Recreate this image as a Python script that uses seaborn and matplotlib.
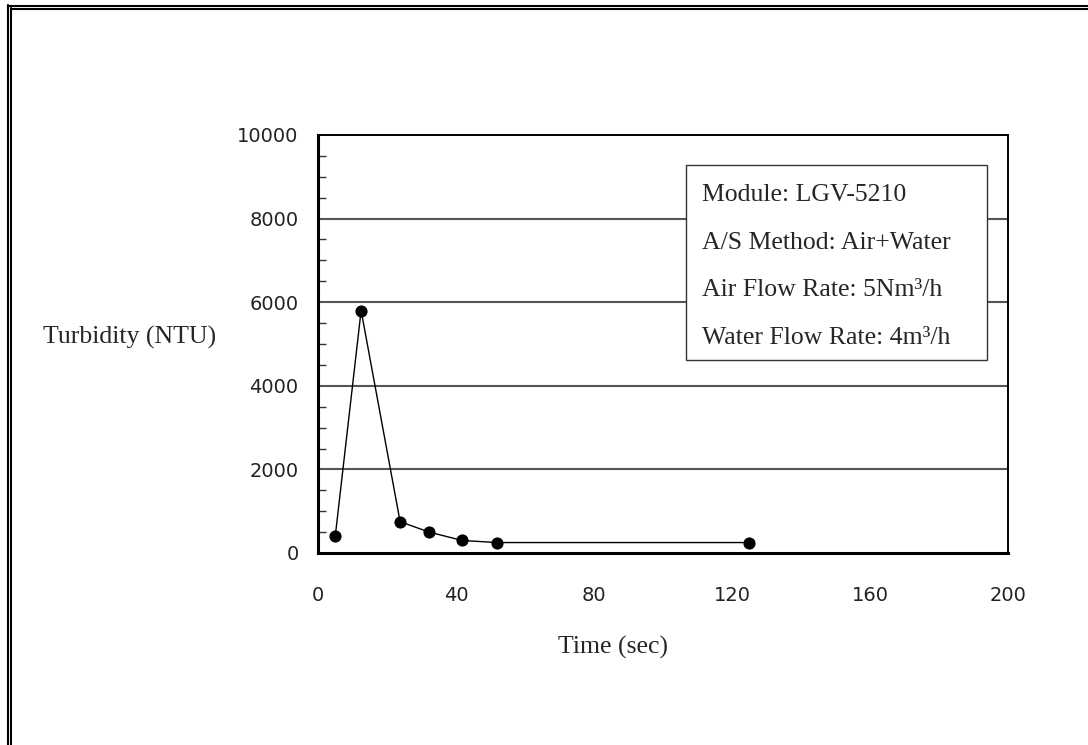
import matplotlib
matplotlib.use("Agg")
import matplotlib.pyplot as plt
import seaborn as sns
import pandas as pd
from matplotlib.patches import Rectangle
from matplotlib.lines import Line2D
from matplotlib.ticker import MultipleLocator

# Turbidity vs time
time_sec = [5, 12.5, 23.8, 32.2, 41.8, 51.8, 125]
turbidity = [400, 5800, 750, 500, 300, 250, 250]

info_lines = [
    "Module: LGV-5210",
    "A/S Method: Air+Water",
    "Air Flow Rate: 5Nm³/h",
    "Water Flow Rate: 4m³/h",
]

sns.set_style("white")
plt.rcParams["font.family"] = ["DejaVu Sans"]
serif = ["Liberation Serif", "DejaVu Serif"]

df = pd.DataFrame({"time": time_sec, "turbidity": turbidity})

fig = plt.figure(figsize=(10.88, 7.45), dpi=100)
ax = fig.add_axes([318 / 1088, 1 - 553 / 745, 690 / 1088, 418 / 745])

sns.lineplot(data=df, x="time", y="turbidity", ax=ax, color="black", linewidth=1,
             marker="o", markersize=8, markeredgecolor="black", markerfacecolor="black",
             zorder=4)

ax.set_xlim(0, 200)
ax.set_ylim(0, 10000)
ax.xaxis.set_major_locator(MultipleLocator(40))
ax.yaxis.set_major_locator(MultipleLocator(2000))
ax.yaxis.set_minor_locator(MultipleLocator(500))
ax.set_xlabel("")
ax.set_ylabel("")

for y in [2000, 4000, 6000, 8000]:
    ax.axhline(y, color="#555555", linewidth=1.5, zorder=1)

for side in ["left", "bottom"]:
    ax.spines[side].set_linewidth(2.2)
    ax.spines[side].set_color("black")
for side in ["top", "right"]:
    ax.spines[side].set_linewidth(1.4)
    ax.spines[side].set_color("black")

ax.tick_params(axis="both", which="major", direction="out", length=7, width=1,
               color="#333333", labelsize=14)
ax.tick_params(axis="y", which="minor", direction="in", length=6, width=1,
               color="#333333", left=True)
ax.tick_params(axis="x", which="major", pad=17)
ax.tick_params(axis="y", which="major", pad=7)
for lbl in ax.get_xticklabels() + ax.get_yticklabels():
    lbl.set_color("#222222")

# info box
ax.add_patch(Rectangle((0.533, 0.4617), 0.4366, 0.4663, transform=ax.transAxes,
                       facecolor="white", edgecolor="#333333", linewidth=1, zorder=3))
for i, line in enumerate(info_lines):
    ax.text(0.5565, 0.8565 - i * 0.1141, line, transform=ax.transAxes, family=serif,
            fontsize=18.5, va="center", ha="left", zorder=5)

fig.text(216 / 1088, 1 - 337 / 745, "Turbidity (NTU)", family=serif, fontsize=18.5,
         ha="right", va="center")
fig.text(613 / 1088, 1 - 647 / 745, "Time (sec)", family=serif, fontsize=18.5,
         ha="center", va="center")

# double frame on left and top
for xp in [7.5, 10.5]:
    fig.add_artist(Line2D([xp / 1088, xp / 1088], [0, 1 - (5 if xp < 9 else 8) / 745],
                          transform=fig.transFigure, color="black", linewidth=1.5))
for yp, x0 in [(5.5, 7.5), (8.5, 10.5)]:
    fig.add_artist(Line2D([x0 / 1088, 1], [1 - yp / 745, 1 - yp / 745],
                          transform=fig.transFigure, color="black", linewidth=1.5))

fig.savefig("out.png", dpi=100)
